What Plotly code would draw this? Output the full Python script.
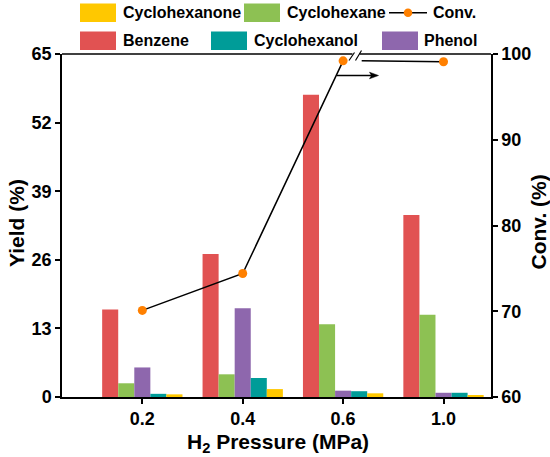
import plotly.graph_objects as go

# ---------------- data ----------------
categories = ["0.2", "0.4", "0.6", "1.0"]
benzene = [16.6, 27.1, 57.3, 34.5]
cyclohexane = [2.6, 4.3, 13.8, 15.6]
phenol = [5.6, 16.8, 1.2, 0.8]
cyclohexanol = [0.6, 3.6, 1.1, 0.8]
cyclohexanone = [0.5, 1.5, 0.7, 0.3]
conv = [70.1, 74.4, 99.2, 99.1]

yield_ticks = [0, 13, 26, 39, 52, 65]
conv_ticks = [60, 70, 80, 90, 100]

# ---------------- style ----------------
C_BENZ = "#E15252"
C_HEXANE = "#8DC153"
C_PHENOL = "#8E67AD"
C_HEXANOL = "#009C98"
C_HEXANONE = "#FFC800"
C_CONV = "#FF8000"
FONT = "Liberation Sans"

W, H = 550, 457
ML, MR, MT, MB = 62, 59, 54, 60
PW, PH = W - ML - MR, H - MT - MB


def px_x(p):
    return (p - ML) / PW


def px_y(p):
    return (H - MB - p) / PH


xpos = list(range(len(categories)))
X_RANGE = [-0.8, 3.473]


def px_to_data_x(p):
    return X_RANGE[0] + (p - ML) / PW * (X_RANGE[1] - X_RANGE[0])


fig = go.Figure()

series = [
    ("Benzene", benzene, C_BENZ),
    ("Cyclohexane", cyclohexane, C_HEXANE),
    ("Phenol", phenol, C_PHENOL),
    ("Cyclohexanol", cyclohexanol, C_HEXANOL),
    ("Cyclohexanone", cyclohexanone, C_HEXANONE),
]
for name, vals, col in series:
    fig.add_trace(go.Bar(x=xpos, y=vals, name=name, marker=dict(color=col, line=dict(width=0)),
                         showlegend=False))

brk_right = px_to_data_x(361.7)

# conversion line (first three points connected, then broken segment to last point)
fig.add_trace(go.Scatter(x=xpos[:3], y=conv[:3], mode="lines", yaxis="y2",
                         line=dict(color="black", width=1.5), showlegend=False, name="Conv."))
fig.add_trace(go.Scatter(x=[brk_right, xpos[3]], y=[conv[2], conv[3]], mode="lines", yaxis="y2",
                         line=dict(color="black", width=1.5), showlegend=False, hoverinfo="skip"))
fig.add_trace(go.Scatter(x=xpos, y=conv, mode="markers", yaxis="y2", name="Conv.",
                         marker=dict(color=C_CONV, size=9), showlegend=False, cliponaxis=False))

axis_common = dict(showline=True, linecolor="black", linewidth=1.5, ticks="outside",
                   ticklen=5, tickwidth=1.5, tickcolor="black", showgrid=False, zeroline=False,
                   tickfont=dict(family=FONT, size=18, color="black", weight="bold"))

fig.update_layout(
    width=W, height=H,
    margin=dict(l=ML, r=MR, t=MT, b=MB, autoexpand=False),
    paper_bgcolor="white", plot_bgcolor="white",
    barmode="group", bargap=0.2, bargroupgap=0,
    font=dict(family=FONT, color="black", weight="bold"),
    xaxis=dict(range=X_RANGE, tickvals=xpos, ticktext=categories, **axis_common),
    yaxis=dict(range=[0, 65], tickvals=yield_ticks, **axis_common),
    yaxis2=dict(range=[60, 100], tickvals=conv_ticks, overlaying="y", side="right", **axis_common),
    showlegend=False,
)

shapes = []
# top border with a break
shapes.append(dict(type="line", xref="paper", yref="paper", x0=0, x1=px_x(352.5), y0=1, y1=1,
                   line=dict(color="black", width=1.5)))
shapes.append(dict(type="line", xref="paper", yref="paper", x0=px_x(359.5), x1=1, y0=1, y1=1,
                   line=dict(color="black", width=1.5)))
# break slashes
for (xa, ya, xb, yb) in [(349, 60.5, 354.5, 52.5), (355.5, 60.5, 361.5, 50.5)]:
    shapes.append(dict(type="line", xref="paper", yref="paper", x0=px_x(xa), y0=px_y(ya),
                       x1=px_x(xb), y1=px_y(yb), line=dict(color="black", width=1.2)))

# arrow pointing to the right axis
AY = 75.5
shapes.append(dict(type="line", xref="paper", yref="paper", x0=px_x(337), x1=px_x(372),
                   y0=px_y(AY), y1=px_y(AY), line=dict(color="black", width=1.3)))
shapes.append(dict(type="path", xref="paper", yref="paper",
                   path=f"M {px_x(378.5)} {px_y(AY)} L {px_x(369.5)} {px_y(AY - 3.3)} "
                        f"L {px_x(371.5)} {px_y(AY)} L {px_x(369.5)} {px_y(AY + 3.3)} Z",
                   fillcolor="black", line=dict(color="black", width=0.5)))

# manual legend
legend_items = [
    # (label, color, swatch_x, text_x, row_y, kind)
    ("Cyclohexanone", C_HEXANONE, 80, 121, 12.7, "bar"),
    ("Cyclohexane", C_HEXANE, 244, 285, 12.7, "bar"),
    ("Conv.", C_CONV, 389, 431, 12.7, "line"),
    ("Benzene", C_BENZ, 80, 121, 40.8, "bar"),
    ("Cyclohexanol", C_HEXANOL, 211, 252, 40.8, "bar"),
    ("Phenol", C_PHENOL, 382, 422, 40.8, "bar"),
]
annotations = []
for label, col, sx, tx, ry, kind in legend_items:
    if kind == "bar":
        shapes.append(dict(type="rect", xref="paper", yref="paper", x0=px_x(sx), x1=px_x(sx + 36),
                           y0=px_y(ry - 9.2), y1=px_y(ry + 9.2), fillcolor=col, line=dict(width=0)))
    else:
        shapes.append(dict(type="line", xref="paper", yref="paper", x0=px_x(sx), x1=px_x(sx + 38),
                           y0=px_y(ry), y1=px_y(ry), line=dict(color="black", width=1.5)))
        shapes.append(dict(type="circle", xref="paper", yref="paper", x0=px_x(sx + 19 - 4.3),
                           x1=px_x(sx + 19 + 4.3), y0=px_y(ry - 4.3), y1=px_y(ry + 4.3),
                           fillcolor=col, line=dict(width=0)))
    annotations.append(dict(text=label, xref="paper", yref="paper", x=px_x(tx), y=px_y(ry),
                            xanchor="left", yanchor="middle", showarrow=False,
                            font=dict(family=FONT, size=16, color="black", weight="bold")))

# axis titles
title_font = dict(family=FONT, size=21, color="black", weight="bold")
annotations.append(dict(text="Yield (%)", xref="paper", yref="paper", x=px_x(16), y=px_y(223),
                        xanchor="center", yanchor="middle", textangle=-90, showarrow=False,
                        font=title_font))
annotations.append(dict(text="Conv. (%)", xref="paper", yref="paper", x=px_x(537.5), y=px_y(222),
                        xanchor="center", yanchor="middle", textangle=-90, showarrow=False,
                        font=title_font))
annotations.append(dict(text="H<sub>2</sub> Pressure (MPa)", xref="paper", yref="paper",
                        x=px_x(278), y=px_y(443), xanchor="center", yanchor="middle",
                        showarrow=False, font=title_font))

fig.update_layout(shapes=shapes, annotations=annotations)

fig.write_html("out.html", config={"displayModeBar": False},
               post_script="document.body.style.margin='0px';"
                           "document.body.style.overflow='hidden';")
